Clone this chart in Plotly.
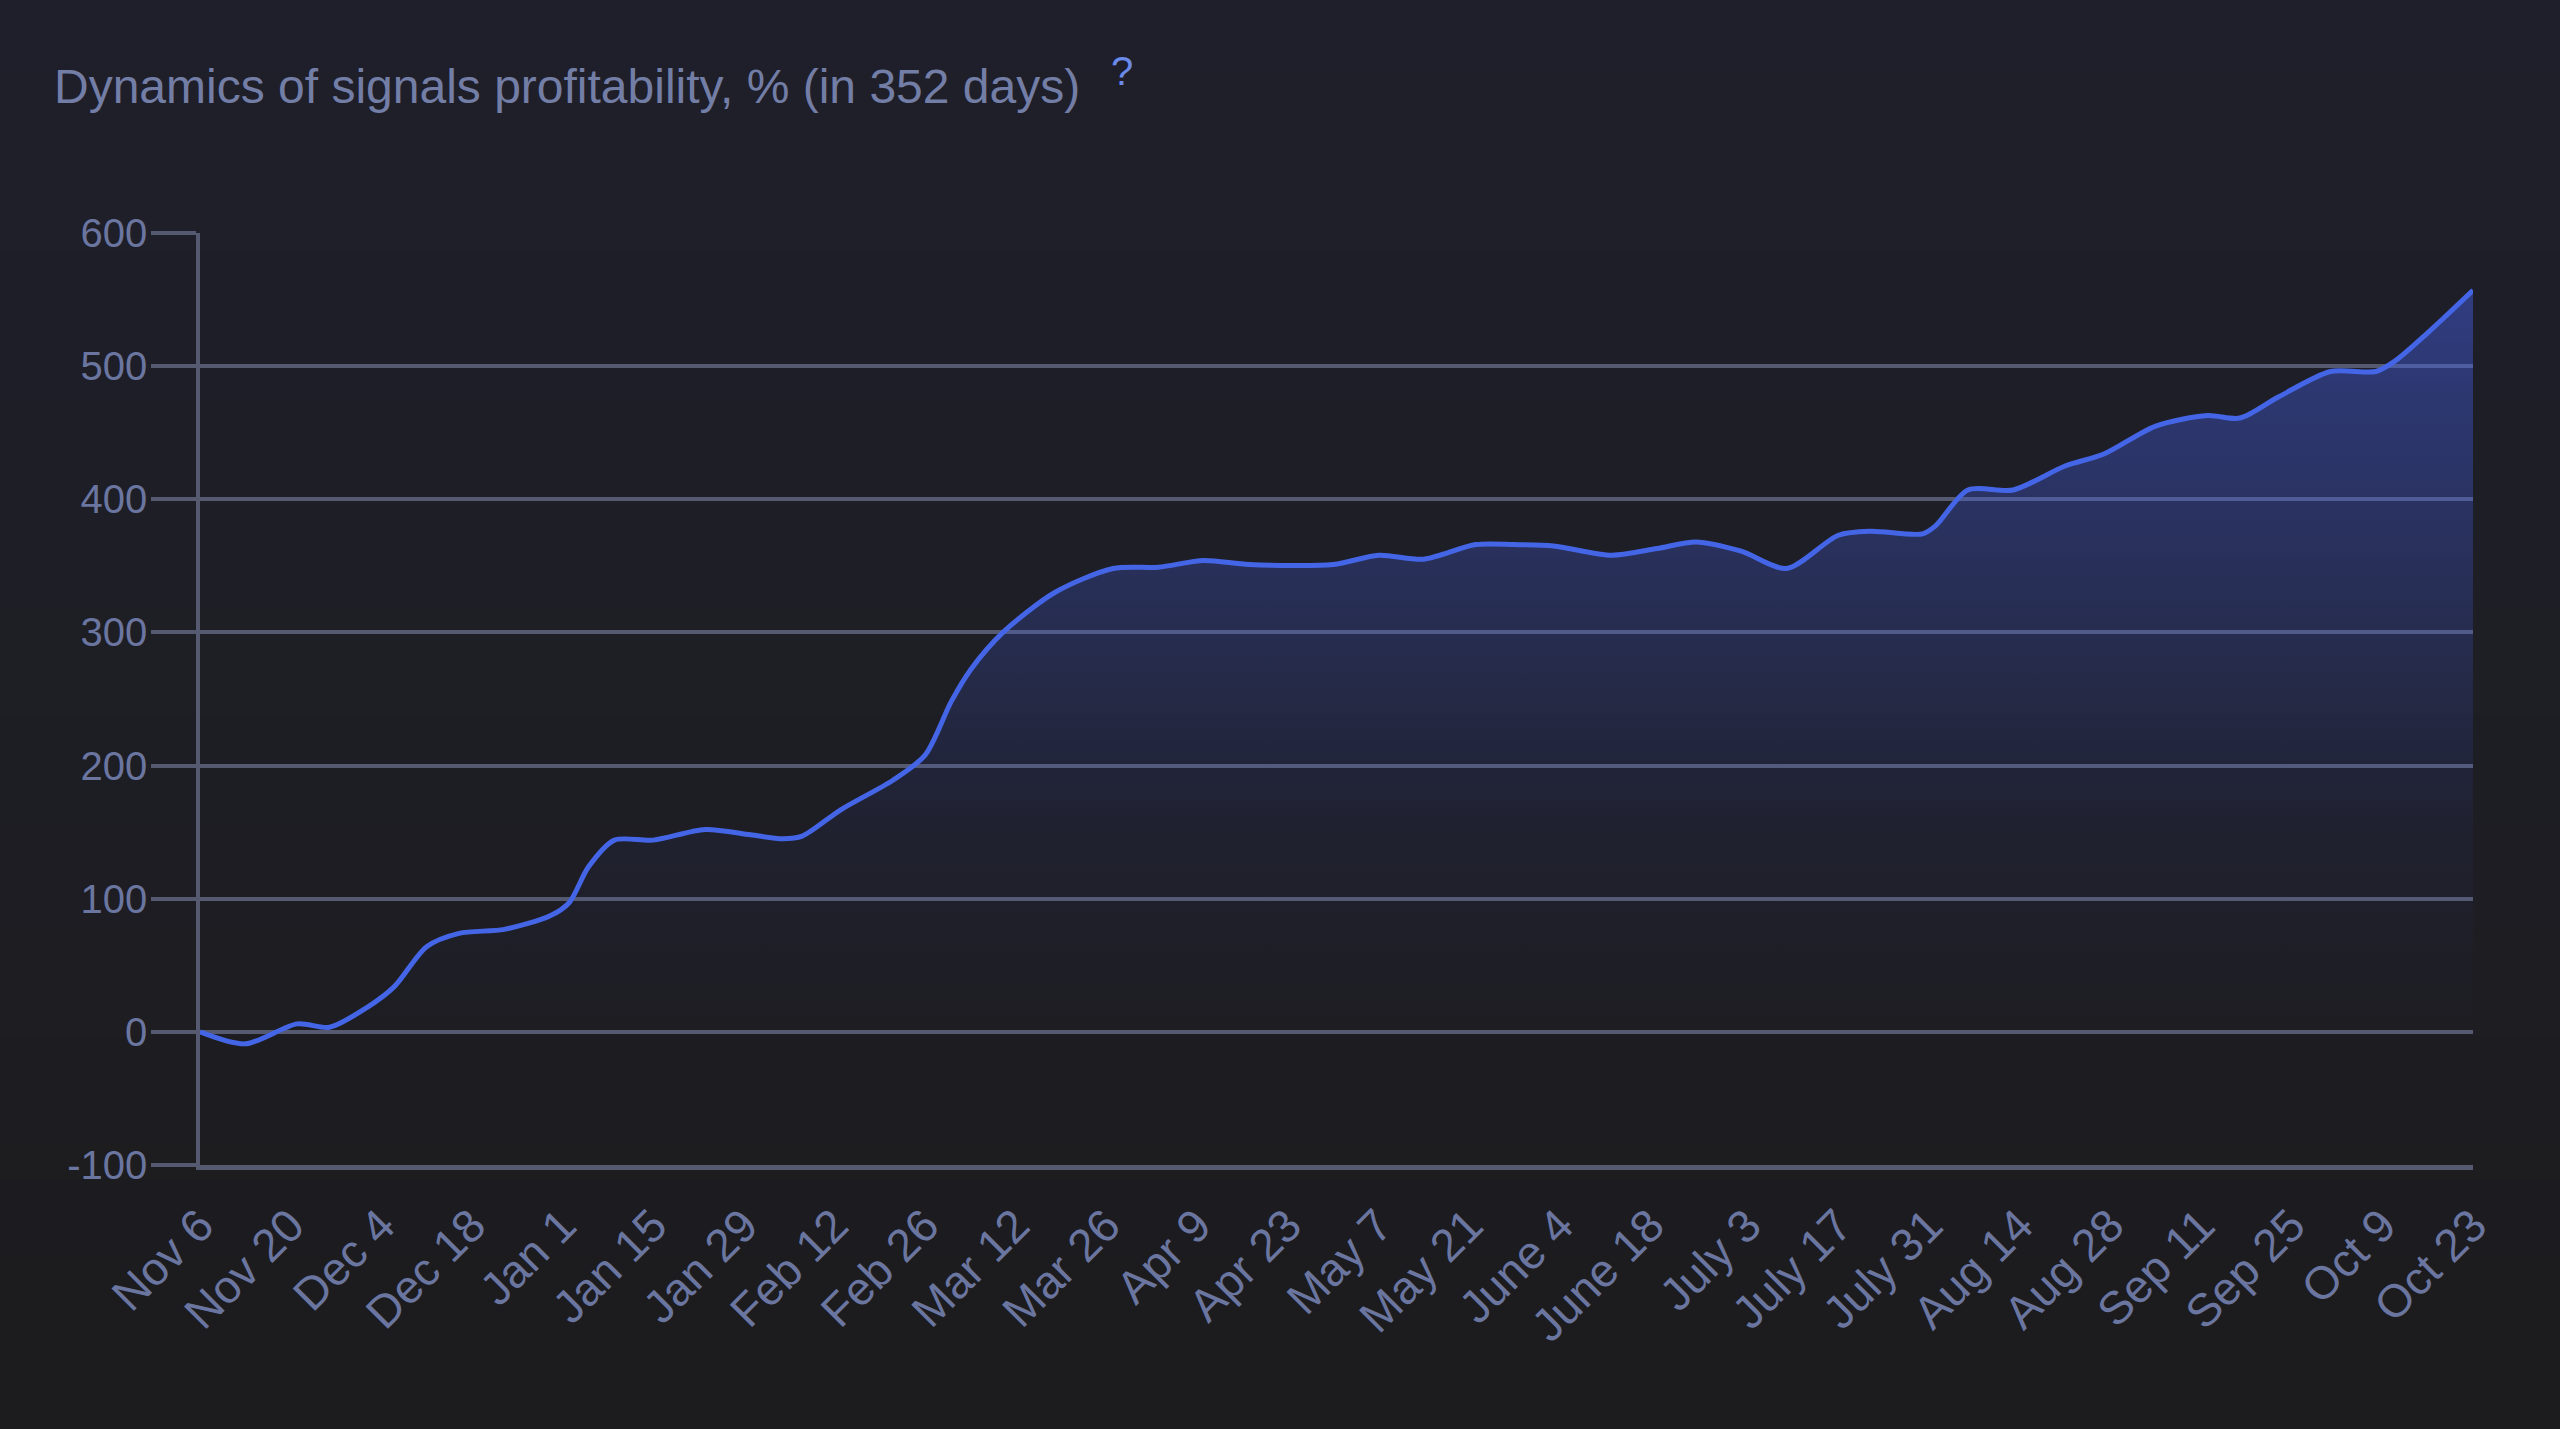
import plotly.graph_objects as go

# ---- data ----
dates = [
    "2022-11-06", "2022-11-13", "2022-11-21", "2022-11-26", "2022-12-02", "2022-12-06",
    "2022-12-11", "2022-12-16", "2022-12-23", "2022-12-30", "2023-01-02", "2023-01-05",
    "2023-01-09", "2023-01-15", "2023-01-23", "2023-01-30", "2023-02-04", "2023-02-07",
    "2023-02-13", "2023-02-21", "2023-02-26", "2023-03-02", "2023-03-05", "2023-03-10",
    "2023-03-18", "2023-03-27", "2023-04-03", "2023-04-10", "2023-04-17", "2023-04-30",
    "2023-05-07", "2023-05-14", "2023-05-22", "2023-05-28", "2023-06-03", "2023-06-12",
    "2023-06-19", "2023-06-25", "2023-07-02", "2023-07-09", "2023-07-17", "2023-07-22",
    "2023-07-30", "2023-08-01", "2023-08-06", "2023-08-13", "2023-08-21", "2023-08-27",
    "2023-09-04", "2023-09-12", "2023-09-17", "2023-09-23", "2023-10-01", "2023-10-08",
    "2023-10-11", "2023-10-16", "2023-10-23",
]
profit = [
    0, -9, 6, 3.5, 19, 34,
    64, 74, 77, 87, 97, 124,
    144, 144, 152, 148, 145, 147,
    167, 189, 208, 248, 272, 300,
    330, 348, 349, 354, 351, 351,
    358, 355, 366, 366, 365, 358,
    363, 368, 361, 348, 373, 376,
    374, 380, 407, 407, 425, 434,
    455, 463, 461, 477, 496, 496,
    504, 525, 557,
]

tick_dates = [
    "2022-11-06", "2022-11-20", "2022-12-04", "2022-12-18", "2023-01-01", "2023-01-15",
    "2023-01-29", "2023-02-12", "2023-02-26", "2023-03-12", "2023-03-26", "2023-04-09",
    "2023-04-23", "2023-05-07", "2023-05-21", "2023-06-04", "2023-06-18", "2023-07-03",
    "2023-07-17", "2023-07-31", "2023-08-14", "2023-08-28", "2023-09-11", "2023-09-25",
    "2023-10-09", "2023-10-23",
]
tick_labels = [
    "Nov 6", "Nov 20", "Dec 4", "Dec 18", "Jan 1", "Jan 15", "Jan 29", "Feb 12", "Feb 26",
    "Mar 12", "Mar 26", "Apr 9", "Apr 23", "May 7", "May 21", "June 4", "June 18", "July 3",
    "July 17", "July 31", "Aug 14", "Aug 28", "Sep 11", "Sep 25", "Oct 9", "Oct 23",
]
y_ticks = [-100, 0, 100, 200, 300, 400, 500, 600]
y_tick_labels = ["-100", "0", "100", "200", "300", "400", "500", "600"]

title_text = "Dynamics of signals profitability, % (in 352 days)"

# ---- styling ----
FONT = "Liberation Sans, Arial, Helvetica, sans-serif"
GRID = "#555a70"
TICK_COLOR = "#6b76a0"
LINE_COLOR = "#4466e6"

W, H = 2560, 1429
L, R, T, B = 200, 87, 233, 264

fig = go.Figure()
fig.add_trace(go.Scatter(
    x=dates, y=profit, mode="lines",
    line=dict(color=LINE_COLOR, width=5, shape="spline", smoothing=0.8),
    fill="tozeroy",
    fillgradient=dict(
        type="vertical",
        colorscale=[[0, "rgba(68,96,230,0)"], [0.25, "rgba(68,96,230,0.06)"],
                    [0.5, "rgba(68,96,230,0.22)"], [1, "rgba(68,96,230,0.5)"]],
        start=0, stop=600,
    ),
    hoverinfo="skip", showlegend=False,
))

# subtle vertical background gradient (top bluish -> bottom neutral)
top_rgb = (31, 31, 43)
bot_rgb = (28, 28, 30)
n_bands = 40
plot_h = H - T - B
y_top_paper = 1 + T / plot_h
y_bot_paper = -B / plot_h
shapes = []
for i in range(n_bands):
    f = i / (n_bands - 1)
    c = tuple(round(top_rgb[k] + (bot_rgb[k] - top_rgb[k]) * f) for k in range(3))
    y1 = y_top_paper - (y_top_paper - y_bot_paper) * i / n_bands
    y0 = y_top_paper - (y_top_paper - y_bot_paper) * (i + 1) / n_bands
    shapes.append(dict(type="rect", xref="paper", yref="paper", x0=-0.2, x1=1.2,
                       y0=y0 - 0.002, y1=y1, fillcolor="rgb(%d,%d,%d)" % c,
                       line=dict(width=0), layer="below"))

fig.update_layout(
    width=W, height=H,
    margin=dict(l=L, r=R, t=T, b=B, pad=0),
    paper_bgcolor="rgb(28,28,30)",
    plot_bgcolor="rgba(0,0,0,0)",
    shapes=shapes,
    font=dict(family=FONT, color=TICK_COLOR, size=38),
    title=dict(text=title_text, font=dict(family=FONT, size=48, color="#737ea6"),
               x=54 / W, xanchor="left", xref="container",
               y=1 - 86 / H, yanchor="middle", yref="container"),
    annotations=[dict(text="?", xref="paper", yref="paper",
                      x=(1122 - L) / (W - L - R), y=(H - B - 71) / plot_h,
                      xanchor="center", yanchor="middle", showarrow=False,
                      font=dict(family=FONT, size=40, color="#6b8bea"))],
    xaxis=dict(
        type="date", range=[dates[0], dates[-1]],
        tickmode="array", tickvals=tick_dates, ticktext=tick_labels,
        tickangle=-45, showgrid=False, zeroline=False,
        showline=True, linecolor=GRID, linewidth=5,
        ticks="", ticklabelstandoff=10,
        tickfont=dict(size=46, color=TICK_COLOR, family=FONT),
    ),
    yaxis=dict(
        range=[-100, 600], tickmode="array", tickvals=y_ticks, ticktext=y_tick_labels,
        showgrid=True, gridcolor=GRID, gridwidth=3.5, zeroline=False,
        showline=True, linecolor=GRID, linewidth=3.5,
        ticks="outside", ticklen=45, tickwidth=3.5, tickcolor=GRID,
        ticklabelstandoff=-4,
        tickfont=dict(size=40, color=TICK_COLOR, family=FONT),
    ),
)

fig.write_html(
    "out.html",
    config={"displayModeBar": False},
    post_script="document.body.style.margin='0';document.body.style.background='#1c1c1e';",
)
